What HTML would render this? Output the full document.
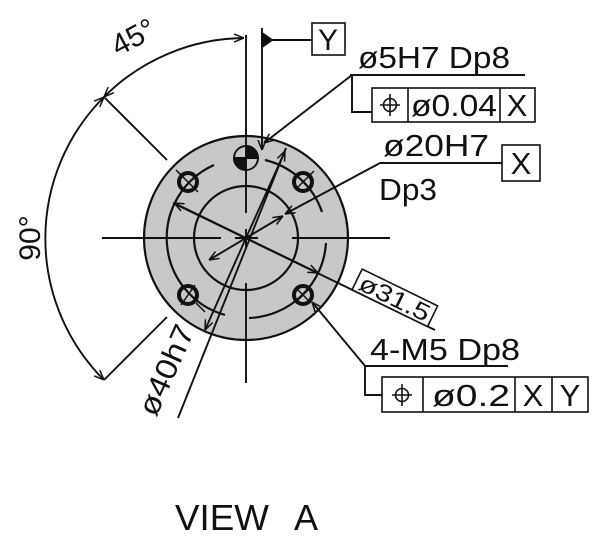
<!DOCTYPE html>
<html><head><style>
html,body{margin:0;padding:0;background:#fff;width:600px;height:544px;overflow:hidden}
svg{display:block}
text{font-family:"Liberation Sans",Arial,sans-serif;fill:#111}
</style></head><body>
<svg width="600" height="544" viewBox="0 0 600 544" xmlns="http://www.w3.org/2000/svg">
<defs>
<marker id="a" viewBox="0 0 10 10" refX="10" refY="5" markerWidth="10" markerHeight="10" orient="auto-start-reverse" markerUnits="userSpaceOnUse">
<path d="M0,1 L10,5 L0,9" fill="none" stroke="#111" stroke-width="1.5"/>
</marker>
</defs>
<g stroke="#111" stroke-width="1.9" fill="none">
<circle cx="246" cy="238" r="102" fill="#c8c8cb" stroke-width="2.2"/>
<circle cx="246" cy="238" r="52" stroke-width="2.2"/>
<path d="M214,165 A80,80 0 0 0 225,315" stroke-width="2.2"/>
<path d="M249,318 A80,80 0 0 0 326,243" stroke-width="2.2"/>
<path d="M265,160 A80,80 0 0 1 322,212" stroke-width="2.2"/>
<line x1="102" y1="238" x2="221" y2="238"/>
<line x1="235" y1="238" x2="258" y2="238"/>
<line x1="292" y1="238" x2="390" y2="238"/>
<line x1="246" y1="35" x2="246" y2="213"/>
<line x1="246" y1="229" x2="246" y2="248"/>
<line x1="246" y1="283" x2="246" y2="383"/>
<circle cx="246" cy="158" r="12" fill="#c8c8cb"/>
<path d="M246,158 L246,146 A12,12 0 0 1 258,158 Z" fill="#111"/>
<path d="M246,158 L234,158 A12,12 0 0 0 246,170 Z" fill="#111"/>
<g stroke-width="4">
<circle cx="188" cy="182" r="9"/><circle cx="303" cy="182" r="9"/>
<circle cx="188" cy="295" r="9"/><circle cx="303" cy="295" r="9"/>
</g>
<g stroke-width="1.5">
<line x1="178" y1="172" x2="198" y2="192"/><line x1="181" y1="305" x2="195" y2="285"/>
<line x1="296" y1="175" x2="310" y2="189"/><line x1="310" y1="175" x2="296" y2="189"/>
<line x1="296" y1="288" x2="310" y2="302"/><line x1="310" y1="288" x2="296" y2="302"/>
<line x1="183" y1="177" x2="176" y2="170"/><line x1="308" y1="177" x2="314" y2="171"/>
<line x1="196" y1="303" x2="205" y2="312"/>
</g>
<line x1="262" y1="28" x2="262" y2="150" marker-end="url(#a)"/>
<line x1="262" y1="40" x2="312" y2="40"/>
<path d="M262,33 L272,40 L262,47 Z" fill="#111"/>
<rect x="312" y="23" width="33" height="32" stroke-width="1.6"/>
<path d="M104,97 A200,200 0 0 1 244,38" marker-start="url(#a)" marker-end="url(#a)"/>
<path d="M104,97 A200,200 0 0 0 104,380" marker-start="url(#a)" marker-end="url(#a)"/>
<line x1="104" y1="97" x2="167" y2="160"/>
<line x1="104" y1="380" x2="167" y2="317"/>
<line x1="350" y1="75" x2="525" y2="75"/>
<line x1="352" y1="75" x2="264" y2="143" marker-end="url(#a)"/>
<polyline points="352,75 352,112 372,112"/>
<rect x="372" y="88" width="163" height="34" stroke-width="1.6"/>
<line x1="408" y1="88" x2="408" y2="122" stroke-width="1.6"/>
<line x1="500" y1="88" x2="500" y2="122" stroke-width="1.6"/>
<circle cx="390" cy="105" r="6.5" stroke-width="1.6"/><line x1="380" y1="105" x2="400" y2="105" stroke-width="1.6"/><line x1="390" y1="94" x2="390" y2="116" stroke-width="1.6"/>
<line x1="380" y1="163" x2="502" y2="163"/>
<line x1="380" y1="163" x2="285" y2="214" marker-end="url(#a)"/>
<rect x="502" y="145" width="38" height="36" stroke-width="1.6"/>
<line x1="283" y1="216" x2="209" y2="260" marker-start="url(#a)" marker-end="url(#a)"/>
<line x1="173" y1="203" x2="435" y2="330"/>
<line x1="246" y1="238" x2="174" y2="203" marker-end="url(#a)"/>
<line x1="246" y1="238" x2="318" y2="273" marker-end="url(#a)"/>
<line x1="286" y1="148" x2="178" y2="418"/>
<line x1="246" y1="238" x2="285" y2="151" marker-end="url(#a)"/>
<line x1="246" y1="238" x2="205" y2="330" marker-end="url(#a)"/>
<line x1="365" y1="366" x2="508" y2="366"/>
<line x1="365" y1="366" x2="312" y2="302" marker-end="url(#a)"/>
<polyline points="365,366 365,395 382,395"/>
<rect x="382" y="377" width="206" height="35" stroke-width="1.6"/>
<line x1="423" y1="377" x2="423" y2="412" stroke-width="1.6"/>
<line x1="515" y1="377" x2="515" y2="412" stroke-width="1.6"/>
<line x1="552" y1="377" x2="552" y2="412" stroke-width="1.6"/>
<circle cx="402" cy="395" r="6.5" stroke-width="1.6"/><line x1="392" y1="395" x2="412" y2="395" stroke-width="1.6"/><line x1="402" y1="384" x2="402" y2="406" stroke-width="1.6"/>
</g>
<g transform="translate(246,238) rotate(26)">
<rect x="118" y="-23" width="84" height="23" fill="#fff" stroke="#111" stroke-width="1.6"/>
<text x="122" y="-3" font-size="24" textLength="76" lengthAdjust="spacingAndGlyphs">ø31.5</text>
</g>
<text x="328" y="50" font-size="30" text-anchor="middle">Y</text>
<text x="138" y="46" font-size="30" transform="rotate(-28 138 46)" text-anchor="middle">45°</text>
<text x="40" y="238" font-size="30" transform="rotate(-90 40 238)" text-anchor="middle">90°</text>
<text x="358" y="68" font-size="31" textLength="152" lengthAdjust="spacingAndGlyphs">ø5H7 Dp8</text>
<text x="411" y="116" font-size="31" textLength="86" lengthAdjust="spacingAndGlyphs">ø0.04</text>
<text x="517" y="116" font-size="31" text-anchor="middle">X</text>
<text x="383" y="156" font-size="31" textLength="106" lengthAdjust="spacingAndGlyphs">ø20H7</text>
<text x="521" y="174" font-size="31" text-anchor="middle">X</text>
<text x="379" y="200" font-size="31" textLength="58" lengthAdjust="spacingAndGlyphs">Dp3</text>
<text x="370" y="360" font-size="31" textLength="150" lengthAdjust="spacingAndGlyphs">4-M5 Dp8</text>
<text x="432" y="406" font-size="31" textLength="78" lengthAdjust="spacingAndGlyphs">ø0.2</text>
<text x="533" y="406" font-size="31" text-anchor="middle">X</text>
<text x="570" y="406" font-size="31" text-anchor="middle">Y</text>
<text x="156" y="418" font-size="30" transform="rotate(-66 156 418)" textLength="96" lengthAdjust="spacingAndGlyphs">ø40h7</text>
<text x="175" y="530" font-size="36" textLength="94" lengthAdjust="spacingAndGlyphs">VIEW</text>
<text x="294" y="530" font-size="36">A</text>
</svg>
</body></html>
